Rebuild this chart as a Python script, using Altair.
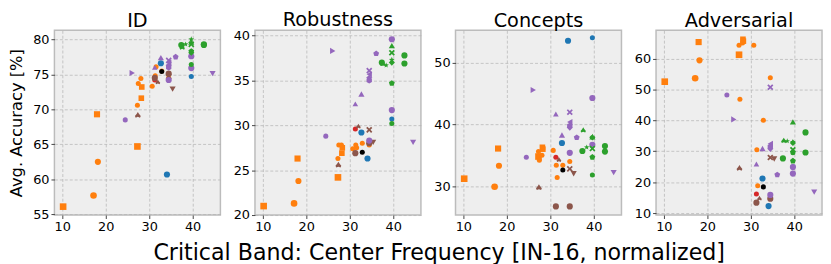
import math
import altair as alt
import pandas as pd

# ---------------- data ----------------
center_freq = [10.2, 17.2, 18.2, 18.0, 27.3, 27.3, 28.2, 27.5, 28.1, 28.3,
               30.7, 31.4, 31.6, 32.9, 34.5,
               31.3,
               27.4, 31.3, 32.0, 34.5, 34.5, 35.4,
               32.9,
               32.7, 34.1, 39.7,
               24.5, 26.1, 31.3, 32.7, 34.5, 34.5, 34.5, 34.5, 34.5, 36.1, 39.7, 39.7, 44.6,
               37.4, 37.6, 38.4, 39.7, 39.7, 39.7, 39.7, 39.7, 39.7, 42.6, 42.6]
family = (["orange"] * 15 + ["red"] + ["brown"] * 6 + ["black"] + ["blue"] * 3
          + ["purple"] * 13 + ["green"] * 11)
marker = ["s", "o", "o", "s", "s", "o", "s", "o", "o", "s",
          "o", "o", "o", "o", "o",
          "o",
          "club", "o", "club", "o", "X", "v",
          "o",
          "o", "o", "o",
          "o", ">", "^", "^", "X", "D", "<", "h", "o", "p", "o", "o", "v",
          "o", "club", "*", "^", "X", "D", "p", "*", "o", "o", "o"]
msize = ["l", "l", "m", "m", "l", "s", "sm", "s", "s", "sm",
         "s", "s", "s", "s", "s",
         "s",
         "m", "m", "s", "m", "m", "m",
         "s",
         "m", "m", "s",
         "s", "m", "sm", "m", "m", "m", "m", "m", "m", "m", "m", "m", "m",
         "m", "sm", "sm", "m", "m", "m", "m", "m", "s", "m", "m"]
acc_id = [56.1, 57.7, 62.5, 69.3, 64.7, 70.6, 71.6, 73.7, 74.4, 73.2,
          73.3, 74.8, 76.1, 75.5, 74.5,
          74.2,
          69.2, 74.5, 73.9, 75.1, 74.7, 72.9,
          75.4,
          76.6, 60.7, 74.7,
          68.5, 75.2, 76.0, 77.4, 77.0, 76.3, 76.7, 76.0, 74.2, 77.5, 77.6, 75.9, 75.1,
          79.2, 78.9, 79.3, 79.6, 79.3, 78.1, 78.3, 80.0, 76.4, 79.3, 79.2]
acc_robustness = [21.0, 21.3, 23.8, 26.3, 24.2, 26.3, 26.9, 27.8, 27.8, 27.5,
                  27.4, 27.8, 27.5, 28.0, 27.8,
                  29.6,
                  25.6, 26.9, 29.9, 28.0, 29.5, 28.1,
                  27.0,
                  29.2, 26.3, 30.7,
                  28.8, 38.3, 32.4, 33.5, 36.1, 35.3, 35.7, 35.0, 28.3, 38.0, 39.6, 31.7, 28.1,
                  37.0, 36.9, 36.7, 38.9, 38.1, 37.0, 34.7, 37.3, 30.2, 37.8, 36.9]
acc_concepts = [31.2, 29.9, 33.3, 36.1, 34.8, 35.6, 36.3, 34.2, 35.0, 36.0,
                35.8, 33.4, 31.4, 33.4, 34.0,
                34.7,
                29.8, 26.7, 34.3, 26.7, 32.8, 32.0,
                32.6,
                37.0, 53.6, 54.1,
                34.7, 45.6, 41.7, 38.3, 42.0, 39.5, 40.4, 39.8, 35.4, 37.9, 44.3, 36.7, 32.2,
                35.7, 39.1, 36.3, 38.0, 36.1, 37.9, 34.7, 38.0, 31.8, 36.5, 35.6]
acc_adversarial = [52.5, 53.6, 59.4, 65.3, 61.2, 64.3, 66.2, 46.8, 65.0, 65.6,
                   64.3, 30.5, 18.9, 40.0, 53.8,
                   16.2,
                   24.6, 13.4, 14.8, 14.7, 28.0, 27.5,
                   18.5,
                   21.2, 12.3, 25.0,
                   48.2, 40.3, 25.9, 30.9, 50.7, 30.8, 32.4, 31.5, 15.9, 22.4, 24.9, 22.8, 16.8,
                   27.7, 33.5, 33.3, 39.5, 30.5, 32.7, 26.9, 33.0, 29.5, 36.1, 29.6]

panel_names = ["ID", "Robustness", "Concepts", "Adversarial"]
panel_values = [acc_id, acc_robustness, acc_concepts, acc_adversarial]
y_domains = [[54.9, 81.3], [20.0, 40.6], [25.3, 55.3], [9.4, 69.1]]
y_ticks = [[55, 60, 65, 70, 75, 80], [20, 25, 30, 35, 40], [30, 40, 50], [10, 20, 30, 40, 50, 60]]
x_domain = [8.2, 46.4]
x_ticks = [10, 20, 30, 40]

x_title = "Critical Band: Center Frequency [IN-16, normalized]"
y_title = "Avg. Accuracy [%]"

# ---------------- styles ----------------
family_names = ["orange", "blue", "purple", "green", "brown", "red", "black"]
family_colors = ["#ff7f0e", "#1f77b4", "#9467bd", "#2ca02c", "#8c564b", "#d62728", "#000000"]


def star_path(n=5, r_in=0.42):
    pts = []
    for k in range(2 * n):
        r = 1.0 if k % 2 == 0 else r_in
        a = -math.pi / 2 + k * math.pi / n
        pts.append(f"{r * math.cos(a):.3f},{r * math.sin(a):.3f}")
    return "M" + "L".join(pts) + "Z"


X_PATH = "M-1,-0.6L-0.6,-1L0,-0.4L0.6,-1L1,-0.6L0.4,0L1,0.6L0.6,1L0,0.4L-0.6,1L-1,0.6L-0.4,0Z"
PENT = "M0,-1L0.951,-0.309L0.588,0.809L-0.588,0.809L-0.951,-0.309Z"
HEX = "M0,-1L0.866,-0.5L0.866,0.5L0,1L-0.866,0.5L-0.866,-0.5Z"
CLUB = ("M0,-1L0.35,-0.4L0.95,0.3L0.7,0.9L0,0.6L-0.7,0.9L-0.95,0.3L-0.35,-0.4Z")

marker_names = ["o", "s", "^", "v", ">", "<", "D", "X", "p", "h", "*", "club"]
marker_paths = ["circle", "square", "triangle-up", "triangle-down", "triangle-right",
                "triangle-left", "diamond", X_PATH, PENT, HEX, star_path(), CLUB]
size_names = ["s", "sm", "m", "l"]
size_values = [26, 45, 92, 165]

FONT = "DejaVu Sans"


def make_panel(i):
    df = pd.DataFrame({
        "x": center_freq,
        "y": panel_values[i],
        "family": family,
        "marker": marker,
        "msize": msize,
    })
    if i == 0:
        yaxis = alt.Axis(values=y_ticks[i], title=y_title, titlePadding=8)
    else:
        yaxis = alt.Axis(values=y_ticks[i], title=None)
    return alt.Chart(df).mark_point(filled=True, opacity=1).encode(
        x=alt.X("x:Q", scale=alt.Scale(domain=x_domain, nice=False, zero=False),
                axis=alt.Axis(values=x_ticks, title=None)),
        y=alt.Y("y:Q", scale=alt.Scale(domain=y_domains[i], nice=False, zero=False), axis=yaxis),
        color=alt.Color("family:N", scale=alt.Scale(domain=family_names, range=family_colors), legend=None),
        shape=alt.Shape("marker:N", scale=alt.Scale(domain=marker_names, range=marker_paths), legend=None),
        size=alt.Size("msize:O", scale=alt.Scale(domain=size_names, range=size_values), legend=None),
    ).properties(
        width=168, height=187,
        title=alt.TitleParams(panel_names[i], fontSize=19.5, font=FONT, fontWeight="normal",
                              color="black", offset=-1),
    )


chart = alt.hconcat(*[make_panel(i) for i in range(4)], spacing=11).properties(
    title=alt.TitleParams(x_title, orient="bottom", anchor="middle", fontSize=22.4, font=FONT,
                          fontWeight="normal", color="black", offset=8, dx=24),
    padding=0,
    background="white",
).configure_view(
    fill="#eeeeee", stroke="#bcbcbc", strokeWidth=1.5,
).configure_axis(
    grid=True, gridColor="#b2b2b2", gridDash=[3, 2], gridWidth=0.7,
    domain=False, ticks=True, tickColor="#444444", tickSize=3.5,
    labelFont=FONT, labelFontSize=13, labelColor="black", labelPadding=2,
    titleFont=FONT, titleFontSize=16.5, titleFontWeight="normal", titleColor="black",
)

chart.save("out.html", embed_options={"renderer": "svg", "actions": False})
